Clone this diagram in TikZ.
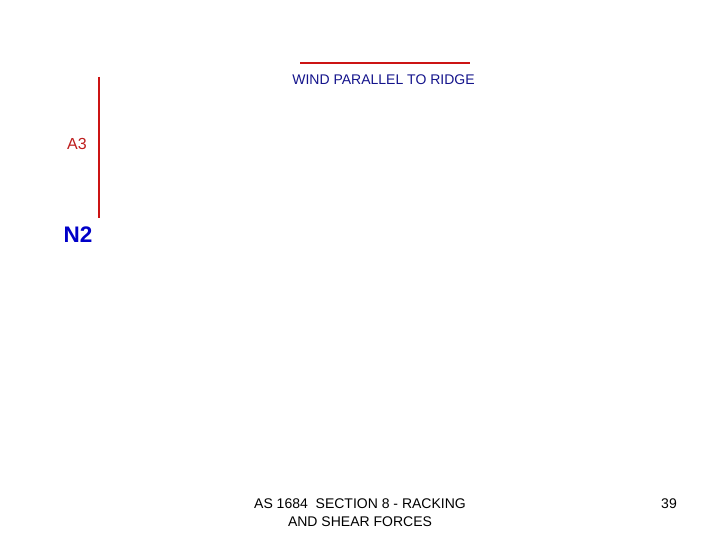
\documentclass[tikz,border=0pt]{standalone}
\usepackage{fontspec}
\setmainfont{Liberation Sans}
\definecolor{linered}{RGB}{204,20,20}
\definecolor{labred}{RGB}{190,30,30}
\definecolor{navy}{RGB}{20,20,140}
\definecolor{nblue}{RGB}{0,0,200}
\tikzset{
  redline/.style={draw=linered, line width=2pt},
  txt/.style={inner sep=0pt, anchor=base},
}
\begin{document}
\begin{tikzpicture}[x=1pt,y=-1pt]
\useasboundingbox (0,0) rectangle (720,540);
\fill[white] (0,0) rectangle (720,540);
\coordinate (h1) at (300,63);
\coordinate (h2) at (470,63);
\coordinate (v1) at (99,77);
\coordinate (v2) at (99,218);
\draw[redline] (h1) -- (h2);
\draw[redline] (v1) -- (v2);
\node[txt, text=navy, font=\fontsize{14}{16}\selectfont] (title) at (383.5,85) {WIND PARALLEL TO RIDGE};
\node[txt, text=labred, font=\fontsize{16}{18}\selectfont] (a3) at (77,150) {A3};
\node[txt, text=nblue, font=\fontsize{22.5}{26}\selectfont\bfseries] (n2) at (78,243) {N2};
\node[txt, text=black, font=\fontsize{14}{16}\selectfont] (foot1) at (360,508) {AS 1684\ \ SECTION 8 - RACKING};
\node[txt, text=black, font=\fontsize{14}{16}\selectfont] (foot2) at (360,526) {AND SHEAR FORCES};
\node[txt, text=black, font=\fontsize{14}{16}\selectfont] (page) at (669,508) {39};
\end{tikzpicture}
\end{document}
